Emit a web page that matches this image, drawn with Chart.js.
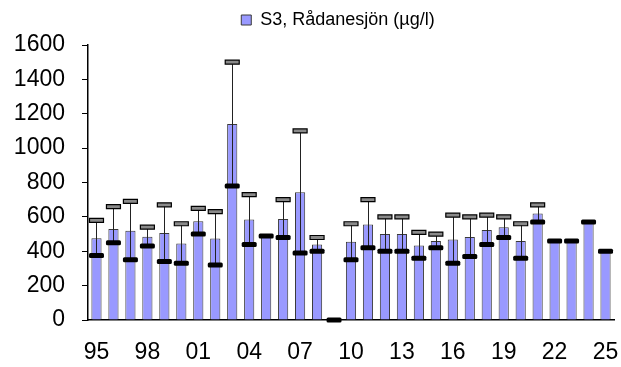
<!DOCTYPE html>
<html>
<head>
<meta charset="utf-8">
<script src="https://cdn.jsdelivr.net/npm/chart.js@4/dist/chart.umd.min.js"></script>
<style>
  html, body { margin: 0; padding: 0; background: #fff; }
  #wrap { width: 621px; height: 367px; }
</style>
</head>
<body>
<div id="wrap"><canvas id="c" width="621" height="367"></canvas></div>
<script>
const years = ['95','96','97','98','99','00','01','02','03','04','05','06','07','08','09','10','11','12','13','14','15','16','17','18','19','20','21','22','23','24','25'];
const meanValues = [475,530,520,485,506,445,574,474,1140,585,489,587,743,439,0,455,555,501,501,433,460,468,483,524,539,460,620,460,460,570,400];
const minValues  = [375,450,350,430,340,330,500,320,780,440,489,480,390,400,0,350,420,400,400,360,420,330,370,440,480,360,570,460,460,570,400];
const maxValues  = [580,660,690,540,670,560,650,630,1500,730,null,700,1100,480,null,560,700,600,600,510,500,610,600,610,600,560,670,null,null,null,null];
const yTicks = [0,200,400,600,800,1000,1200,1400,1600];
const seriesName = 'S3, Rådanesjön (µg/l)';

const FONT = "'Liberation Sans', Arial, sans-serif";

const errorBars = {
  id: 'errorBars',
  afterDatasetsDraw(chart) {
    const ctx = chart.ctx;
    const xs = chart.scales.x, ys = chart.scales.y;
    ctx.save();
    for (let i = 0; i < years.length; i++) {
      const x = xs.getPixelForValue(i);
      const lo = minValues[i], hi = maxValues[i];
      if (hi !== null && lo !== null) {
        ctx.strokeStyle = '#222';
        ctx.lineWidth = 1;
        ctx.beginPath();
        ctx.moveTo(Math.round(x) + 0.5, ys.getPixelForValue(lo));
        ctx.lineTo(Math.round(x) + 0.5, ys.getPixelForValue(hi));
        ctx.stroke();
      }
      if (hi !== null) {
        const y = ys.getPixelForValue(hi);
        ctx.fillStyle = '#8a8a8a';
        ctx.strokeStyle = '#000';
        ctx.lineWidth = 1.2;
        ctx.beginPath();
        ctx.rect(x - 7, y - 2, 14, 4);
        ctx.fill();
        ctx.stroke();
      }
      if (lo !== null) {
        const y = ys.getPixelForValue(lo);
        ctx.fillStyle = '#000';
        ctx.beginPath();
        ctx.roundRect ? ctx.roundRect(x - 7.5, y - 2.5, 15, 5, 1.5) : ctx.rect(x - 7.5, y - 2.5, 15, 5);
        ctx.fill();
      }
    }
    ctx.restore();
  }
};

const legendGap = {
  id: 'legendGap',
  beforeInit(chart) {
    const fit = chart.legend.fit;
    chart.legend.fit = function () {
      fit.bind(chart.legend)();
      this.height += 6;
    };
  },
  afterLayout(chart) {
    chart.legend.left += 31;
    chart.legend.right += 31;
  }
};

new Chart(document.getElementById('c'), {
  type: 'bar',
  data: {
    labels: years,
    datasets: [{
      label: seriesName,
      data: meanValues,
      backgroundColor: '#9999FF',
      borderColor: '#3a3a3a',
      borderWidth: 1,
      barPercentage: 0.6,
      categoryPercentage: 1.0
    }]
  },
  options: {
    responsive: false,
    animation: false,
    events: [],
    layout: { padding: { left: 0, right: 7, top: 2, bottom: 0 } },
    plugins: {
      legend: {
        display: true,
        position: 'top',
        labels: {
          boxWidth: 10,
          boxHeight: 10,
          padding: 9,
          color: '#000',
          font: { family: FONT, size: 18 }
        }
      },
      tooltip: { enabled: false }
    },
    scales: {
      x: {
        grid: { display: false, drawTicks: false },
        border: { display: true, color: '#000', width: 1.5 },
        ticks: {
          autoSkip: false,
          maxRotation: 0,
          padding: 19,
          color: '#000',
          font: { family: FONT, size: 23 },
          callback: function (v, i) { return i % 3 === 0 ? years[i] : ''; }
        },
        afterFit(scale) { scale.height = 47; scale.paddingLeft = 0; scale.paddingRight = 0; }
      },
      y: {
        min: 0,
        max: 1600,
        afterBuildTicks(scale) { scale.ticks = yTicks.map(v => ({ value: v })); },
        grid: { drawOnChartArea: false, drawTicks: true, tickLength: 6, color: '#000', lineWidth: 1 },
        border: { display: true, color: '#000', width: 1.5 },
        ticks: {
          padding: 17,
          color: '#000',
          font: { family: FONT, size: 23 },
          callback: function (v) { return String(v); }
        },
        afterFit(scale) { scale.width = 88; }
      }
    }
  },
  plugins: [errorBars, legendGap]
});
</script>
</body>
</html>
